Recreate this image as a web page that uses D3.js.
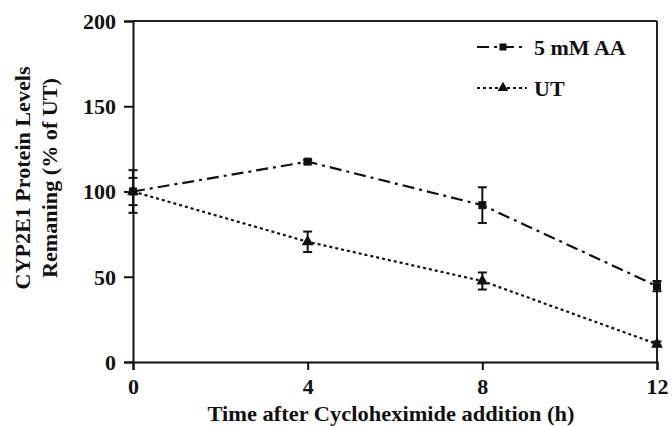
<!DOCTYPE html>
<html>
<head>
<meta charset="utf-8">
<script src="https://cdn.jsdelivr.net/npm/d3@7/dist/d3.min.js"></script>
<style>
  body { margin: 0; background: #fff; }
  svg text { font-family: "Liberation Serif", "Times New Roman", serif; font-weight: bold; fill: #111; }
</style>
</head>
<body>
<div id="chart"></div>
<script>
var hours = [0, 4, 8, 12];
var xTicks = [0, 4, 8, 12];
var yTicks = [0, 50, 100, 150, 200];
var aaValues = [100, 117.5, 92, 44.5];
var aaErrors = [12.5, 1, 10.5, 3];
var utValues = [100, 70.5, 47.5, 10.5];
var utErrors = [8, 6, 5, 1.5];
var seriesNames = ["5 mM AA", "UT"];

var margin = {top: 21, right: 15, bottom: 64, left: 133};
var fullWidth = 672, fullHeight = 426;
var width = fullWidth - margin.left - margin.right;
var height = fullHeight - margin.top - margin.bottom;

var svg = d3.select("#chart").append("svg")
  .attr("width", fullWidth).attr("height", fullHeight);
var g = svg.append("g").attr("transform", "translate(" + margin.left + "," + margin.top + ")");

var xScale = d3.scaleLinear().domain([0, 12]).range([0, width]);
var yScale = d3.scaleLinear().domain([0, 200]).range([height, 0]);

// frame on top and right
g.append("line").attr("x1", 0).attr("x2", width).attr("y1", 0).attr("y2", 0)
  .attr("stroke", "#222").attr("stroke-width", 2);
g.append("line").attr("x1", width).attr("x2", width).attr("y1", 0).attr("y2", height)
  .attr("stroke", "#222").attr("stroke-width", 2);

var xAxis = d3.axisBottom(xScale).tickValues(xTicks).tickSize(8).tickPadding(8);
var yAxis = d3.axisLeft(yScale).tickValues(yTicks).tickSize(9).tickPadding(8);

var gx = g.append("g").attr("transform", "translate(0," + height + ")").call(xAxis);
var gy = g.append("g").call(yAxis);
[gx, gy].forEach(function(a){
  a.select(".domain").attr("stroke", "#111").attr("stroke-width", 2);
  a.selectAll(".tick line").attr("stroke", "#111").attr("stroke-width", 2);
  a.selectAll(".tick text").style("font-size", "22px").attr("fill", "#111");
});
gy.selectAll(".tick text").attr("dy", "0.34em");

var series = [
  {name: seriesNames[0], values: aaValues, errors: aaErrors, dash: "12,5,3,5", marker: "square"},
  {name: seriesNames[1], values: utValues, errors: utErrors, dash: "3,3", marker: "triangle"}
];

var line = d3.line()
  .x(function(d){ return xScale(d.h); })
  .y(function(d){ return yScale(d.v); });

series.forEach(function(s){
  var pts = hours.map(function(h, i){ return {h: h, v: s.values[i], e: s.errors[i]}; });
  g.append("path").datum(pts)
    .attr("d", line)
    .attr("fill", "none")
    .attr("stroke", "#111")
    .attr("stroke-width", 2.2)
    .attr("stroke-dasharray", s.dash);

  var eb = g.append("g").selectAll("g").data(pts).enter().append("g");
  eb.append("line")
    .attr("x1", function(d){ return xScale(d.h); })
    .attr("x2", function(d){ return xScale(d.h); })
    .attr("y1", function(d){ return yScale(d.v - d.e); })
    .attr("y2", function(d){ return yScale(d.v + d.e); })
    .attr("stroke", "#111").attr("stroke-width", 2);
  [1, -1].forEach(function(sign){
    eb.append("line")
      .attr("x1", function(d){ return xScale(d.h) - 4.5; })
      .attr("x2", function(d){ return xScale(d.h) + 4.5; })
      .attr("y1", function(d){ return yScale(d.v + sign * d.e); })
      .attr("y2", function(d){ return yScale(d.v + sign * d.e); })
      .attr("stroke", "#111").attr("stroke-width", 2);
  });

  var sym = s.marker == "square" ? d3.symbolSquare : d3.symbolTriangle;
  g.append("g").selectAll("path").data(pts).enter().append("path")
    .attr("d", d3.symbol().type(sym).size(s.marker == "square" ? 64 : 60))
    .attr("transform", function(d){ return "translate(" + xScale(d.h) + "," + yScale(d.v) + ")"; })
    .attr("fill", "#111");
});

// legend
var legendY = [47, 88];
series.forEach(function(s, i){
  var lg = svg.append("g").attr("transform", "translate(477," + legendY[i] + ")");
  lg.append("line").attr("x1", 0).attr("x2", 50).attr("y1", 0).attr("y2", 0)
    .attr("stroke", "#111").attr("stroke-width", 2.2).attr("stroke-dasharray", s.dash);
  lg.append("path")
    .attr("d", d3.symbol().type(s.marker == "square" ? d3.symbolSquare : d3.symbolTriangle).size(50))
    .attr("transform", "translate(26,0)").attr("fill", "#111");
  lg.append("text").attr("x", 57).attr("y", 0).attr("dy", "0.35em")
    .style("font-size", "22px").text(s.name);
});

// axis titles
svg.append("text")
  .attr("x", 391).attr("y", 421)
  .attr("text-anchor", "middle").style("font-size", "21px")
  .attr("textLength", 367).attr("lengthAdjust", "spacingAndGlyphs")
  .text("Time after Cycloheximide addition (h)");

var yt = svg.append("text")
  .attr("transform", "translate(30,178) rotate(-90)")
  .attr("text-anchor", "middle").style("font-size", "20px");
yt.append("tspan").attr("x", 0).attr("y", 0)
  .attr("textLength", 223).attr("lengthAdjust", "spacingAndGlyphs")
  .text("CYP2E1 Protein Levels");
yt.append("tspan").attr("x", 0).attr("y", 27)
  .attr("textLength", 200).attr("lengthAdjust", "spacingAndGlyphs")
  .text("Remaning (% of UT)");
</script>
</body>
</html>
